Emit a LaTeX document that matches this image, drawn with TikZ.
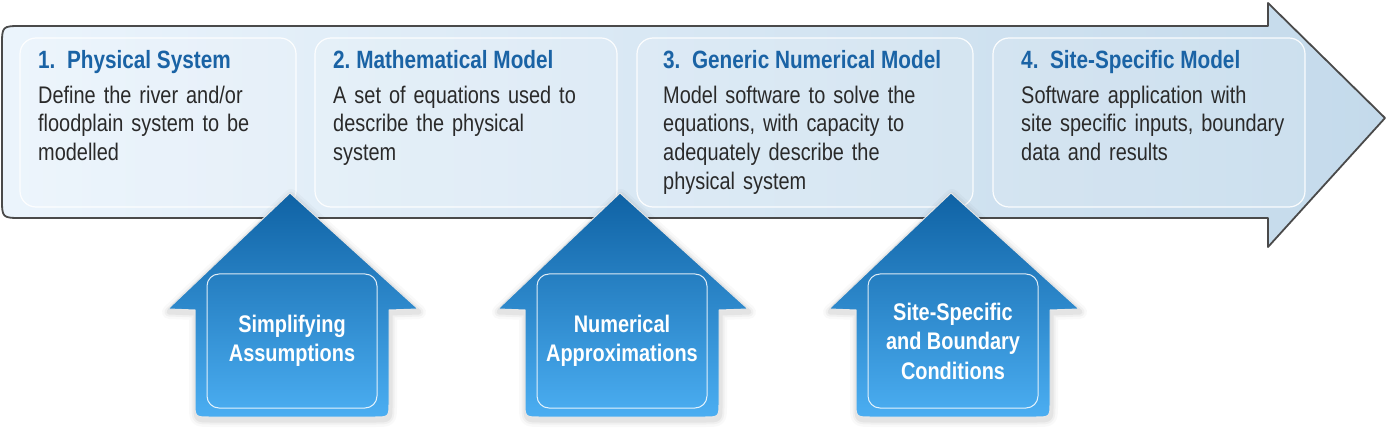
\documentclass[tikz,border=0pt]{standalone}
\usepackage{fontspec}
\setmainfont{Liberation Sans}[FakeStretch=0.83]
\definecolor{bgL}{HTML}{EBF4FC}
\definecolor{bgR}{HTML}{C4DAEB}
\definecolor{titleblue}{HTML}{1A63A5}
\definecolor{bodytxt}{HTML}{2A2A2A}
\definecolor{hTop}{HTML}{0F62A4}
\definecolor{hBot}{HTML}{4BAEF2}
\definecolor{framegray}{HTML}{4A4A4A}
\newcommand\drawhouse[2]{%
  \path[#2] ({#1-2},193) -- ({#1+126},309) -- ({#1+97},310) -- ({#1+97},402)
    .. controls ({#1+97},417) .. ({#1+82},417) -- ({#1-82},417)
    .. controls ({#1-97},417) .. ({#1-97},402) -- ({#1-97},310) -- ({#1-124},309) -- cycle;}
\newcommand\househ[3]{%
  \foreach \w/\o in {14/0.025, 9/0.035, 5/0.05}
    \drawhouse{#1}{draw=black, draw opacity=\o, line width=\w, line join=round, shift={(1,3)}};
  \drawhouse{#1}{top color=hTop, bottom color=hBot, draw=white!80!gray, line width=1, line join=round}
  \draw[innerbox] ({#1-85},274) rectangle ({#1+85},408);
  \node[housetxt] (#2) at (#1,341) {#3};}
\tikzset{
  arrowbody/.style={left color=bgL, right color=bgR, draw=framegray, line width=1.8, line join=round},
  panel/.style={draw=white, draw opacity=0.9, fill=white, fill opacity=0.12, line width=1.2, rounded corners=16},
  innerbox/.style={draw=white, draw opacity=0.85, line width=1, rounded corners=12},
  ttl/.style={anchor=base west, inner sep=0, text=titleblue, font=\bfseries\fontsize{25}{30}\selectfont},
  bdy/.style={anchor=north west, inner sep=0, text=bodytxt, text width=330pt, align=left, font=\fontsize{24}{28.7}\selectfont},
  housetxt/.style={inner sep=0, text=white, align=center, font=\bfseries\fontsize{24}{29.5}\selectfont}
}
\begin{document}
\begin{tikzpicture}[x=1pt,y=-1pt]
\path[use as bounding box] (0,0) rectangle (1386,430);
% big arrow
\path[arrowbody] (1268,26) -- (1268,3) -- (1385,118) -- (1268,247) -- (1268,218) -- (22,218)
  .. controls (2,218) .. (2,198) -- (2,46) .. controls (2,26) .. (22,26) -- cycle;
% panels
\path[panel] (20,38) rectangle (296,207);
\path[panel] (315,38) rectangle (617,207);
\path[panel] (637,38) rectangle (973,207);
\path[panel] (993,38) rectangle (1305,207);
% titles
\node[ttl] (t1) at (38,69) {1.\ \ Physical System};
\node[ttl] (t2) at (333,69) {2.\ Mathematical Model};
\node[ttl] (t3) at (663,69) {3.\ \ Generic Numerical Model};
\node[ttl] (t4) at (1021,69) {4.\ \ Site-Specific Model};
% bodies
\node[bdy] (b1) at (38,83) {\rule{0pt}{20pt}Define the river and/or\\floodplain system to be\\modelled};
\node[bdy] (b2) at (333,83) {\rule{0pt}{20pt}A set of equations used to\\describe the physical\\system};
\node[bdy] (b3) at (663,83) {\rule{0pt}{20pt}Model software to solve the\\equations, with capacity to\\adequately describe the\\physical system};
\node[bdy] (b4) at (1021,83) {\rule{0pt}{20pt}Software application with\\site specific inputs, boundary\\data and results};
% houses
\househ{292}{h1}{Simplifying\\Assumptions}
\househ{622}{h2}{Numerical\\Approximations}
\househ{953}{h3}{Site-Specific\\and Boundary\\Conditions}
\end{tikzpicture}
\end{document}
